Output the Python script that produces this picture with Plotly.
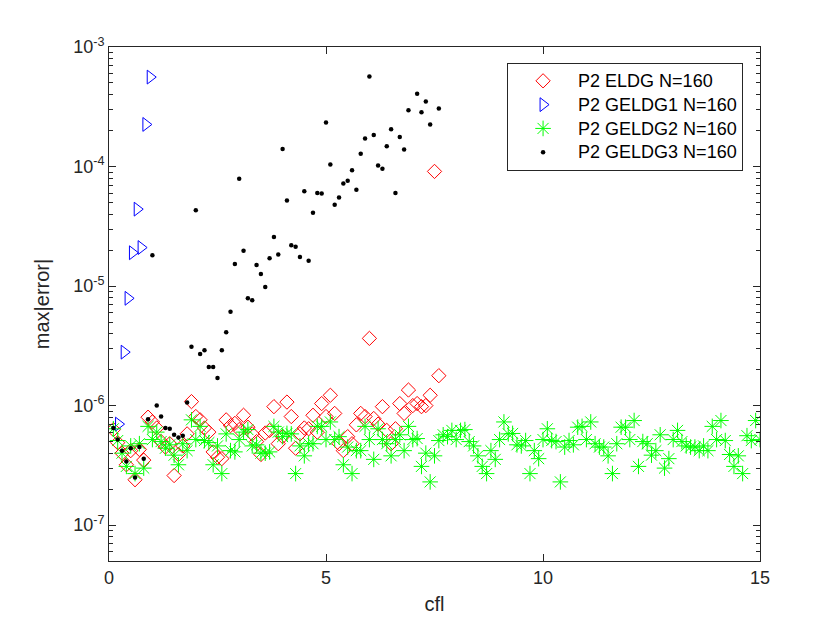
import plotly.graph_objects as go

# ---- data (cfl vs max|error|, N=160) ----

# P2 ELDG
eldg_cfl = [
    0.1, 0.2, 0.3, 0.4, 0.5, 0.6, 0.7, 0.8, 0.9, 1.0,
    1.1, 1.2, 1.3, 1.4, 1.5, 1.6, 1.7, 1.8, 1.9, 2.0,
    2.1, 2.2, 2.3, 2.4, 2.5, 2.6, 2.7, 2.8, 2.9, 3.0,
    3.1, 3.2, 3.3, 3.4, 3.5, 3.6, 3.7, 3.8, 3.9, 4.0,
    4.1, 4.2, 4.3, 4.4, 4.5, 4.6, 4.7, 4.8, 4.9, 5.0,
    5.1, 5.2, 5.3, 5.4, 5.5, 5.6, 5.7, 5.8, 5.9, 6.0,
    6.1, 6.2, 6.3, 6.4, 6.5, 6.6, 6.7, 6.8, 6.9, 7.0,
    7.1, 7.2, 7.3, 7.4, 7.5, 7.6,
]
eldg_err = [
    6.3e-7, 4.9e-7, 4.0e-7, 3.2e-7, 4.2e-7, 2.4e-7, 4.3e-7, 3.5e-7, 8.0e-7, 7.3e-7,
    6.5e-7, 5.0e-7, 4.5e-7, 4.8e-7, 2.6e-7, 3.9e-7, 4.6e-7, 5.8e-7, 1.08e-6, 8.1e-7,
    7.6e-7, 6.5e-7, 6.0e-7, 4.1e-7, 3.7e-7, 3.6e-7, 7.6e-7, 6.8e-7, 7.1e-7, 6.3e-7,
    8.3e-7, 6.6e-7, 5.8e-7, 5.0e-7, 3.9e-7, 5.9e-7, 6.2e-7, 9.8e-7, 4.8e-7, 5.5e-7,
    1.07e-6, 8.1e-7, 4.4e-7, 5.8e-7, 6.5e-7, 6.4e-7, 8.3e-7, 6.0e-7, 1.04e-6, 8.1e-7,
    1.22e-6, 8.6e-7, 4.8e-7, 4.2e-7, 5.5e-7, 4.8e-7, 6.9e-7, 8.6e-7, 8.1e-7, 3.65e-6,
    7.8e-7, 7.0e-7, 9.8e-7, 6.2e-7, 4.8e-7, 6.4e-7, 1.04e-6, 8.6e-7, 1.35e-6, 1.0e-6,
    1.04e-6, 9.8e-7, 1.0e-6, 1.22e-6, 9.1e-5, 1.78e-6,
]

# P2 GELDG1
geldg1_cfl = [0.22, 0.35, 0.44, 0.54, 0.65, 0.74, 0.85, 0.95]
geldg1_err = [7.0e-7, 2.8e-6, 7.9e-6, 1.9e-5, 4.4e-5, 2.1e-5, 2.25e-4, 5.6e-4]

# P2 GELDG2
geldg2_cfl = [
    0.1, 0.2, 0.3, 0.4, 0.5, 0.6, 0.7, 0.8, 0.9, 1.0,
    1.1, 1.2, 1.3, 1.4, 1.5, 1.6, 1.7, 1.8, 1.9, 2.0,
    2.1, 2.2, 2.3, 2.4, 2.5, 2.6, 2.7, 2.8, 2.9, 3.0,
    3.1, 3.2, 3.3, 3.4, 3.5, 3.6, 3.7, 3.8, 3.9, 4.0,
    4.1, 4.2, 4.3, 4.4, 4.5, 4.6, 4.7, 4.8, 4.9, 5.0,
    5.1, 5.2, 5.3, 5.4, 5.5, 5.6, 5.7, 5.8, 5.9, 6.0,
    6.1, 6.2, 6.3, 6.4, 6.5, 6.6, 6.7, 6.8, 6.9, 7.0,
    7.1, 7.2, 7.3, 7.4, 7.5, 7.6, 7.7, 7.8, 7.9, 8.0,
    8.1, 8.2, 8.3, 8.4, 8.5, 8.6, 8.7, 8.8, 8.9, 9.0,
    9.1, 9.2, 9.3, 9.4, 9.5, 9.6, 9.7, 9.8, 9.9, 10.0,
    10.1, 10.2, 10.3, 10.4, 10.5, 10.6, 10.7, 10.8, 10.9, 11.0,
    11.1, 11.2, 11.3, 11.4, 11.5, 11.6, 11.7, 11.8, 11.9, 12.0,
    12.1, 12.2, 12.3, 12.4, 12.5, 12.6, 12.7, 12.8, 12.9, 13.0,
    13.1, 13.2, 13.3, 13.4, 13.5, 13.6, 13.7, 13.8, 13.9, 14.0,
    14.1, 14.2, 14.3, 14.4, 14.5, 14.6, 14.7, 14.8, 14.9, 15.0,
]
geldg2_err = [
    6.4e-7, 5.1e-7, 4.0e-7, 3.1e-7, 4.6e-7, 2.7e-7, 4.8e-7, 3.0e-7, 6.7e-7, 5.2e-7,
    6.0e-7, 5.0e-7, 4.4e-7, 4.7e-7, 3.85e-7, 3.2e-7, 4.8e-7, 4.2e-7, 7.6e-7, 5.2e-7,
    6.7e-7, 5.1e-7, 4.9e-7, 3.2e-7, 4.6e-7, 2.7e-7, 5.8e-7, 4.2e-7, 4.1e-7, 5.2e-7,
    6.0e-7, 6.3e-7, 4.6e-7, 4.7e-7, 4.0e-7, 4.0e-7, 4.1e-7, 6.7e-7, 6.0e-7, 5.5e-7,
    5.85e-7, 5.8e-7, 2.7e-7, 4.6e-7, 3.8e-7, 4.8e-7, 4.8e-7, 6.7e-7, 6.7e-7, 5.2e-7,
    7.3e-7, 5.2e-7, 5.5e-7, 3.2e-7, 4.5e-7, 2.7e-7, 4.2e-7, 4.2e-7, 6.7e-7, 5.2e-7,
    3.55e-7, 6.4e-7, 5.2e-7, 4.8e-7, 3.8e-7, 5.2e-7, 5.7e-7, 4.2e-7, 6.7e-7, 5.2e-7,
    5.3e-7, 3.1e-7, 4.0e-7, 2.3e-7, 3.8e-7, 5.1e-7, 5.7e-7, 5.5e-7, 6.2e-7, 5.2e-7,
    6.2e-7, 6.3e-7, 5.0e-7, 4.6e-7, 3.8e-7, 3.1e-7, 2.7e-7, 4.2e-7, 3.55e-7, 5.2e-7,
    7.3e-7, 5.8e-7, 5.85e-7, 4.7e-7, 4.6e-7, 5.1e-7, 2.7e-7, 4.2e-7, 3.6e-7, 5.2e-7,
    6.4e-7, 5.1e-7, 5.0e-7, 2.3e-7, 4.5e-7, 5.1e-7, 4.7e-7, 6.6e-7, 6.7e-7, 5.2e-7,
    7.3e-7, 4.8e-7, 4.5e-7, 4.5e-7, 3.8e-7, 2.7e-7, 4.8e-7, 6.6e-7, 6.6e-7, 5.2e-7,
    7.5e-7, 3.1e-7, 5.0e-7, 4.8e-7, 3.85e-7, 4.2e-7, 5.7e-7, 3.0e-7, 3.6e-7, 5.2e-7,
    6.2e-7, 5.0e-7, 4.6e-7, 4.5e-7, 4.5e-7, 4.2e-7, 4.6e-7, 4.2e-7, 6.7e-7, 5.2e-7,
    7.5e-7, 5.1e-7, 3.9e-7, 3.1e-7, 3.8e-7, 2.7e-7, 5.6e-7, 5.1e-7, 7.5e-7, 5.2e-7,
]

# P2 GELDG3 (no visible points at cfl 7.0 and 7.5)
geldg3_cfl = [
    0.1, 0.2, 0.3, 0.4, 0.5, 0.6, 0.7, 0.8, 0.9, 1.0,
    1.1, 1.2, 1.3, 1.4, 1.5, 1.6, 1.7, 1.8, 1.9, 2.0,
    2.1, 2.2, 2.3, 2.4, 2.5, 2.6, 2.7, 2.8, 2.9, 3.0,
    3.1, 3.2, 3.3, 3.4, 3.5, 3.6, 3.7, 3.8, 3.9, 4.0,
    4.1, 4.2, 4.3, 4.4, 4.5, 4.6, 4.7, 4.8, 4.9, 5.0,
    5.1, 5.2, 5.3, 5.4, 5.5, 5.6, 5.7, 5.8, 5.9, 6.0,
    6.1, 6.2, 6.3, 6.4, 6.5, 6.6, 6.7, 6.8, 6.9,
    7.1, 7.2, 7.3, 7.4, 7.6,
]
geldg3_err = [
    6.5e-7, 5.2e-7, 4.2e-7, 3.4e-7, 4.4e-7, 2.5e-7, 4.5e-7, 3.6e-7, 7.7e-7, 1.81e-5,
    1.0e-6, 8.1e-7, 6.5e-7, 6.4e-7, 5.7e-7, 5.4e-7, 5.6e-7, 1.06e-6, 3.1e-6, 4.3e-5,
    2.7e-6, 2.9e-6, 2.1e-6, 2.1e-6, 1.7e-6, 2.9e-6, 4.1e-6, 6.1e-6, 1.53e-5, 7.9e-5,
    1.97e-5, 7.9e-6, 7.6e-6, 1.50e-5, 1.26e-5, 9.8e-6, 1.71e-5, 2.57e-5, 1.84e-5, 1.40e-4,
    5.2e-5, 2.2e-5, 2.13e-5, 1.75e-5, 6.2e-5, 1.63e-5, 4.1e-5, 6.0e-5, 5.96e-5, 2.34e-4,
    1.04e-4, 4.8e-5, 5.5e-5, 7.2e-5, 7.6e-5, 9.3e-5, 6.4e-5, 1.28e-4, 1.72e-4, 5.66e-4,
    1.84e-4, 1.02e-4, 9.6e-5, 1.48e-4, 2.05e-4, 6.0e-5, 1.77e-4, 1.39e-4, 2.95e-4,
    4.06e-4, 2.84e-4, 3.50e-4, 2.25e-4, 3.06e-4,
]

# ---- axis ticks ----
x_ticks = [0, 5, 10, 15]
y_decades = [-7, -6, -5, -4, -3]
y_ticktext = ["10<sup>-7</sup>", "10<sup>-6</sup>", "10<sup>-5</sup>",
              "10<sup>-4</sup>", "10<sup>-3</sup>"]

FONT = "Liberation Sans, Arial, sans-serif"
AXIS_COLOR = "#262626"


def legend_label(text):
    # bigger glyphs than the legend font so rows stay tight like MATLAB
    return '<span style="font-size:18px">' + text + '</span>'


def build_figure():
    """
    Scatter of max|error| against cfl for the four schemes, MATLAB look
    """
    fig = go.Figure()

    fig.add_trace(go.Scatter(
        x=eldg_cfl, y=eldg_err, mode="markers", name=legend_label("P2 ELDG N=160"),
        marker=dict(symbol="diamond-open", size=11, color="#FF0000",
                    line=dict(width=1, color="#FF0000"))
    ))
    fig.add_trace(go.Scatter(
        x=geldg1_cfl, y=geldg1_err, mode="markers", name=legend_label("P2 GELDG1 N=160"),
        marker=dict(symbol="triangle-right-open", size=12, color="#0000FF",
                    line=dict(width=1, color="#0000FF"))
    ))
    fig.add_trace(go.Scatter(
        x=geldg2_cfl, y=geldg2_err, mode="markers", name=legend_label("P2 GELDG2 N=160"),
        marker=dict(symbol="asterisk-open", size=13, color="#00FF00",
                    line=dict(width=1, color="#00FF00"))
    ))
    fig.add_trace(go.Scatter(
        x=geldg3_cfl, y=geldg3_err, mode="markers", name=legend_label("P2 GELDG3 N=160"),
        marker=dict(symbol="circle", size=4.5, color="#000000",
                    line=dict(width=0))
    ))

    # minor log ticks 2..9 inside each decade
    minor_vals = [m * 10.0 ** d for d in range(-8, -3) for m in range(2, 10)]

    fig.update_xaxes(
        range=[0, 15], tickvals=x_ticks, ticks="inside", ticklen=7,
        tickcolor=AXIS_COLOR, showline=True, linecolor=AXIS_COLOR, linewidth=1,
        mirror="ticks", showgrid=False, zeroline=False,
        tickfont=dict(family=FONT, size=18, color=AXIS_COLOR),
        title=dict(text="cfl", font=dict(family=FONT, size=20, color=AXIS_COLOR),
                   standoff=10)
    )
    fig.update_yaxes(
        type="log", range=[-7.30, -3], tickvals=[10.0 ** d for d in y_decades],
        ticktext=y_ticktext, ticks="inside", ticklen=7, tickcolor=AXIS_COLOR,
        showline=True, linecolor=AXIS_COLOR, linewidth=1, mirror="ticks",
        showgrid=False, zeroline=False,
        minor=dict(tickvals=minor_vals, ticks="inside", ticklen=4,
                   tickcolor=AXIS_COLOR, showgrid=False),
        tickfont=dict(family=FONT, size=18, color=AXIS_COLOR),
        title=dict(text="max|error|", font=dict(family=FONT, size=20, color=AXIS_COLOR),
                   standoff=18)
    )

    # page body adds an 8px offset, margins compensate for it
    fig.update_layout(
        width=840, height=630,
        margin=dict(l=101, r=88, t=39, b=77),
        plot_bgcolor="white", paper_bgcolor="white",
        font=dict(family=FONT, color=AXIS_COLOR),
        showlegend=True,
        legend=dict(
            x=0.974, y=0.969, xanchor="right", yanchor="top",
            bordercolor=AXIS_COLOR, borderwidth=1, bgcolor="white",
            font=dict(family=FONT, size=16, color="#000000"),
            itemwidth=60
        )
    )
    return fig


if __name__ == "__main__":
    fig = build_figure()
    fig.write_html("out.html")
